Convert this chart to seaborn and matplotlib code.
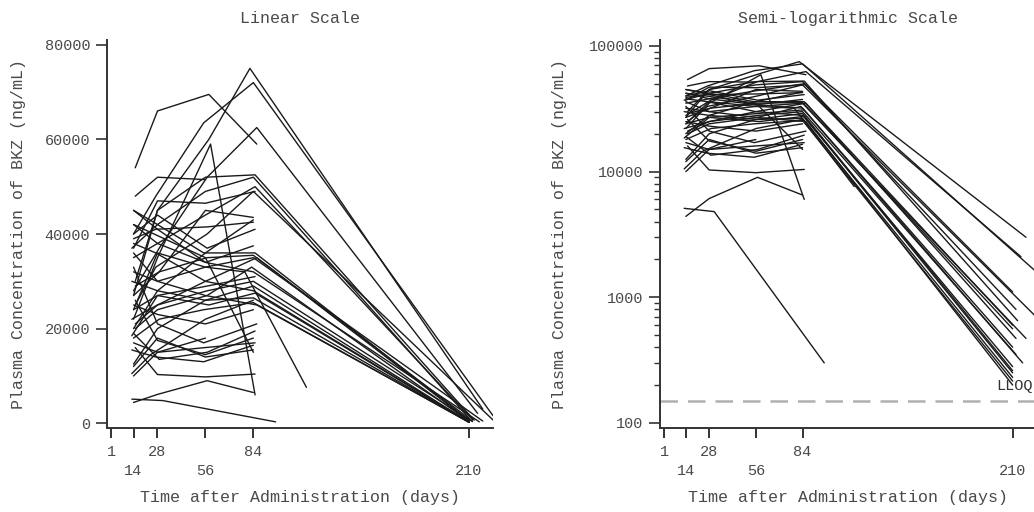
import numpy as np
import pandas as pd
import matplotlib
matplotlib.use("Agg")
import matplotlib.pyplot as plt
import seaborn as sns

# ---- Data: individual concentration-time profiles (ng/mL) ----
# Profiles followed up to the day-210 visit
full_days = [
    [15, 28, 58, 82, 218], [14, 27, 55, 84, 224], [14, 29, 57, 86, 215],
    [13, 28, 56, 84, 210], [14, 28, 56, 85, 212], [15, 27, 57, 84, 224],
    [14, 28, 55, 85, 210], [14, 29, 57, 84, 210], [13, 28, 56, 86, 212],
    [14, 28, 56, 84, 218], [15, 28, 57, 83, 210], [14, 27, 56, 84, 210],
    [14, 28, 58, 85, 210], [13, 28, 56, 84, 210], [14, 29, 55, 84, 210],
    [14, 28, 56, 86, 210], [15, 28, 57, 84, 212], [14, 28, 56, 84, 216],
    [14, 28, 56, 84, 210], [14, 28, 56, 85, 213],
]
full_conc = [
    [30000, 45000, 60000, 75000, 3000], [40000, 48000, 63500, 72000, 1600],
    [28000, 37000, 52000, 62500, 2100], [37000, 42000, 49000, 52000, 1100],
    [35000, 38000, 44000, 50000, 800], [25000, 33000, 40000, 49000, 700],
    [45000, 42000, 36000, 36000, 600], [27000, 32000, 35000, 35500, 560],
    [22000, 25000, 30000, 35000, 470], [36000, 30000, 33000, 35000, 470],
    [20000, 24000, 27000, 33000, 400], [38000, 36000, 30000, 28000, 280],
    [24000, 27000, 25000, 27500, 250], [30000, 28000, 26000, 26500, 230],
    [18000, 22000, 24000, 25500, 215], [32000, 30000, 27000, 25000, 200],
    [21000, 25000, 28000, 30000, 350], [42000, 38000, 34000, 32000, 300],
    [12500, 20000, 26000, 29000, 260], [27000, 45000, 52000, 52500, 650],
]
# Profiles ending at or before the day-84 visit (or early termination)
short_days = [
    [15, 28, 58, 86], [15, 28, 56], [14, 28, 59, 85], [14, 28, 57, 84],
    [15, 28, 56, 85], [13, 31, 97], [14, 28, 56, 85], [14, 28, 56, 84],
    [13, 27, 55, 84], [14, 29, 57, 85], [15, 28, 56, 84], [14, 28, 55, 86],
    [14, 27, 57, 84], [14, 28, 56, 85], [15, 29, 56, 84], [13, 28, 57, 85],
    [14, 28, 56, 84], [14, 26, 56, 84], [14, 28, 56, 84], [14, 28, 56, 79, 115],
    [14, 28, 56], [14, 28, 56, 84], [13, 24, 56, 84], [14, 28, 57, 85],
]
short_conc = [
    [54000, 66000, 69500, 59000], [48000, 52000, 51500], [22000, 35000, 59000, 6000],
    [4400, 6100, 9000, 6500], [16000, 10300, 9800, 10400], [5100, 4800, 300],
    [10000, 15000, 16000, 17000], [12000, 18000, 14000, 15500],
    [15500, 14000, 13000, 16500], [19000, 13500, 15000, 19500],
    [26000, 17500, 14500, 18000], [33000, 21000, 17000, 21000],
    [39000, 41000, 41500, 42500], [37000, 47000, 46500, 49000],
    [29000, 32000, 45000, 43500], [18500, 27000, 29000, 31000],
    [25000, 23000, 21000, 24000], [42000, 40000, 35000, 15000],
    [20000, 28000, 36000, 43000], [24000, 36000, 33000, 32000, 7600],
    [17000, 15000, 18000], [45000, 41000, 34000, 37500],
    [10500, 14500, 22000, 26000], [40000, 44000, 37000, 41000],
]
xtick_vals = [1, 14, 28, 56, 84, 210]
xtick_labels = ["1", "\n14", "28", "\n56", "84", "\n210"]
lin_yticks = [0, 20000, 40000, 60000, 80000]
log_yticks = [100, 1000, 10000, 100000]
lloq = 150

rows = []
sid = 0
for dlist, clist in ((full_days, full_conc), (short_days, short_conc)):
    for d, c in zip(dlist, clist):
        sid += 1
        for di, ci in zip(d, c):
            rows.append({"subject": sid, "day": di, "conc": ci})
df = pd.DataFrame(rows)

sns.set_style("ticks")
plt.rcParams["font.family"] = ["Liberation Mono", "DejaVu Sans Mono"]
TXT = "#4a4a4a"
plt.rcParams["text.color"] = TXT
plt.rcParams["axes.labelcolor"] = TXT
plt.rcParams["xtick.color"] = "#333333"
plt.rcParams["ytick.color"] = "#333333"
plt.rcParams["xtick.labelcolor"] = TXT
plt.rcParams["ytick.labelcolor"] = TXT

fig = plt.figure(figsize=(10.34, 5.12), dpi=100)
ax1 = fig.add_axes([107 / 1034, 84 / 512, 386 / 1034, 388 / 512])
ax2 = fig.add_axes([660 / 1034, 84 / 512, 376 / 1034, 388 / 512])

for ax in (ax1, ax2):
    sns.lineplot(data=df, x="day", y="conc", units="subject", estimator=None,
                 color="#1a1a1a", lw=1.0, ax=ax, legend=False)
    ax.set_xlim(-1.5, 224)
    ax.set_xticks(xtick_vals)
    ax.set_xticklabels(xtick_labels, fontsize=11, va="top", linespacing=1.5)
    for s in ("top", "right"):
        ax.spines[s].set_visible(False)
    for s in ("left", "bottom"):
        ax.spines[s].set_linewidth(1.4)
        ax.spines[s].set_color("#333333")
    ax.tick_params(axis="x", length=7, width=1.4, pad=5)
    ax.tick_params(axis="y", which="major", length=8, width=1.2, pad=4, labelsize=11)
    ax.set_xlabel("Time after Administration (days)", fontsize=12)
    ax.set_ylabel("Plasma Concentration of BKZ (ng/mL)", fontsize=12)

ax1.set_ylim(-1000, 81000)
ax1.set_yticks(lin_yticks)
ax1.set_yticklabels([str(v) for v in lin_yticks])
ax1.set_title("Linear Scale", fontsize=12, pad=12)
ax1.xaxis.set_label_coords(0.5, -0.18)
ax1.yaxis.set_label_coords(-0.228, 0.5)

ax2.set_yscale("log")
ax2.set_ylim(91, 111500)
ax2.set_yticks(log_yticks)
ax2.set_yticklabels([str(v) for v in log_yticks])
ax2.yaxis.set_minor_locator(matplotlib.ticker.LogLocator(base=10, subs=np.arange(2, 10)))
ax2.yaxis.set_minor_formatter(matplotlib.ticker.NullFormatter())
ax2.tick_params(axis="y", which="minor", length=4, width=1.0, color="#333333")
ax2.axhline(lloq, color="#b0b0b0", lw=1.8, ls=(0, (7, 4)), zorder=0)
ax2.text(222, 172, "LLOQ", ha="right", va="bottom", fontsize=11, color="#333333")
ax2.set_title("Semi-logarithmic Scale", fontsize=12, pad=12)
ax2.xaxis.set_label_coords(0.5, -0.18)
ax2.yaxis.set_label_coords(-0.266, 0.5)
for lab in (ax1.xaxis.label, ax2.xaxis.label, ax1.yaxis.label, ax2.yaxis.label):
    lab.set_va("center")

fig.savefig("out.png", dpi=100, facecolor="white")
